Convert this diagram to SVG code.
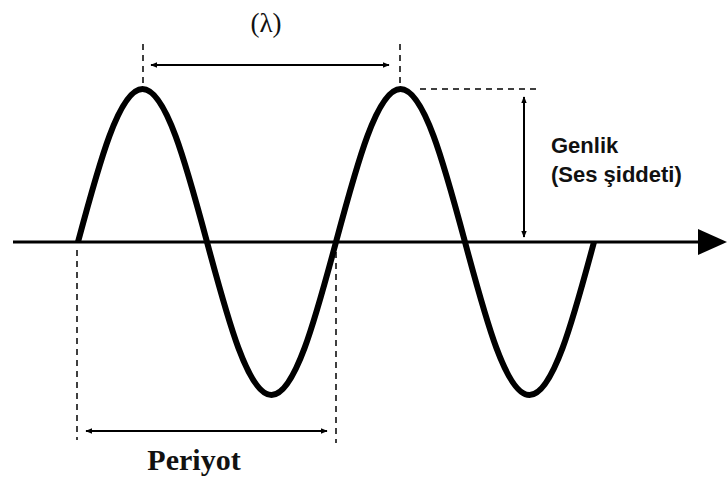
<svg xmlns="http://www.w3.org/2000/svg" width="727" height="479" viewBox="0 0 727 479">
<style>
.dash{stroke:#000;stroke-width:1.5;stroke-dasharray:6,5;fill:none}
.dim{stroke:#000;stroke-width:2;fill:none;marker-start:url(#ah);marker-end:url(#ah)}
.sans{font-family:"Liberation Sans",Arial,sans-serif;font-weight:bold;font-size:22px;fill:#111}
.serif{font-family:"Liberation Serif","Times New Roman",serif;fill:#111}
</style>
<defs>
<marker id="ah" viewBox="0 0 10 10" refX="9" refY="5" markerWidth="7" markerHeight="7" orient="auto-start-reverse" markerUnits="userSpaceOnUse">
<path d="M0,1 L10,5 L0,9 Z" fill="#000"/>
</marker>
</defs>
<rect width="727" height="479" fill="#fff"/>
<g id="axis">
<line x1="13" y1="242" x2="702" y2="242" stroke="#000" stroke-width="3"/>
<polygon points="698,229 727,242 698,255" fill="#000"/>
</g>
<g id="wave">
<path d="M78,242 c21,-78.4 41.2,-153 64.5,-153 s43.5,74.6 64.5,153 s41.2,153 64.5,153 s43.5,-74.6 64.5,-153 s41.2,-153 64.5,-153 s43.5,74.6 64.5,153 s41.2,153 64.5,153 s43.5,-74.6 64.5,-153" fill="none" stroke="#000" stroke-width="6"/>
</g>
<g id="connectors">
<line class="dash" x1="143" y1="44" x2="143" y2="84"/>
<line class="dash" x1="400" y1="44" x2="400" y2="84"/>
<line class="dim" x1="151" y1="65" x2="389" y2="65"/>
<line class="dash" x1="420" y1="89" x2="540" y2="89"/>
<line class="dim" x1="524" y1="97" x2="524" y2="237"/>
<line class="dash" x1="77" y1="250" x2="77" y2="440"/>
<line class="dash" x1="336" y1="252" x2="336" y2="443"/>
<line class="dim" x1="86" y1="431" x2="327" y2="431"/>
</g>
<g id="lambda"><text class="serif" x="266" y="32" font-size="27" text-anchor="middle">(λ)</text></g>
<g id="genlik">
<text class="sans" x="551" y="153">Genlik</text>
<text class="sans" x="551" y="182">(Ses şiddeti)</text>
</g>
<g id="periyot"><text class="serif" x="194" y="470" font-size="30" font-weight="bold" text-anchor="middle">Periyot</text></g>
</svg>
